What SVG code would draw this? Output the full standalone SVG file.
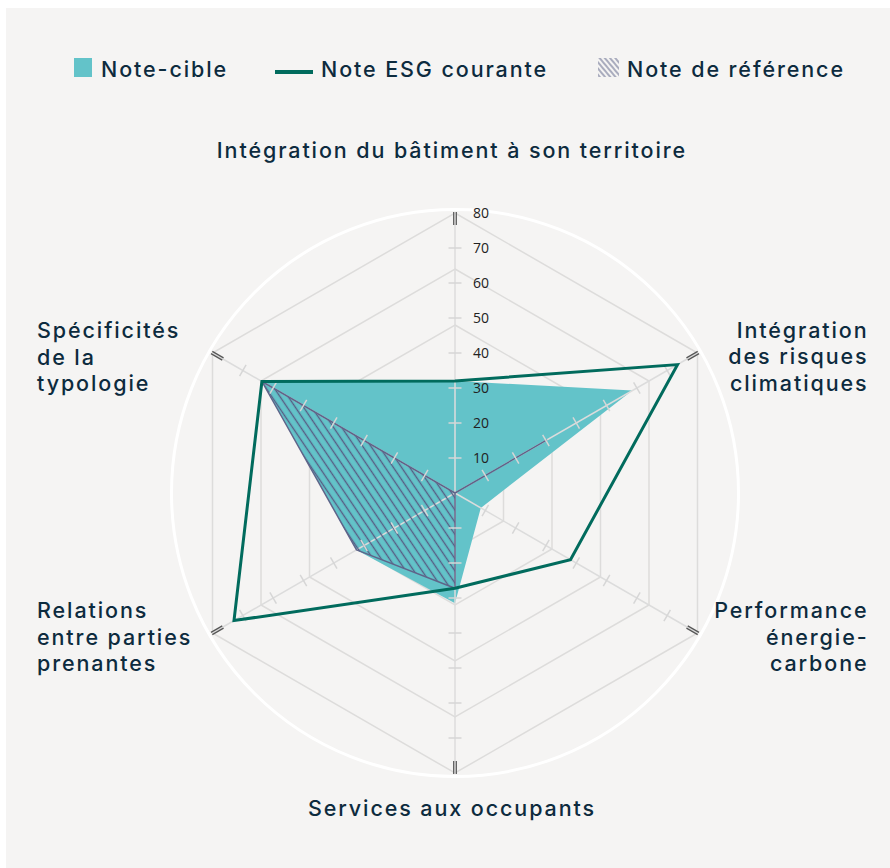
<svg xmlns="http://www.w3.org/2000/svg" xmlns:xlink="http://www.w3.org/1999/xlink" width="890" height="868" viewBox="0 0 890 868">
<style>
.lbl{font-family:Inter,"Open Sans",sans-serif;font-size:21.5px;font-weight:500;fill:#0d2b3e;letter-spacing:1.9px}
.tl{font-family:"Open Sans","Noto Sans",sans-serif;font-size:14px;fill:#222}
.grid{fill:none;stroke:#dddcdb;stroke-width:1.5}
.axis{stroke:#dcdcdc;stroke-width:1.5}
.tick{stroke:#d6d6d6;stroke-width:1.5}
.mark{stroke:#555;stroke-width:1.2}
</style>
<defs>
<pattern id="hatch" patternUnits="userSpaceOnUse" width="6.8" height="20" patternTransform="rotate(-34 455 493)">
<line x1="3.4" y1="0" x2="3.4" y2="20" stroke="#575c84" stroke-width="1.4"/>
</pattern>
<pattern id="hatchLeg" patternUnits="userSpaceOnUse" width="4" height="10" patternTransform="rotate(-40)">
<line x1="2" y1="0" x2="2" y2="10" stroke="#5d6388" stroke-width="1"/>
</pattern>
<g id="ticks">
<line class="tick" x1="448.5" y1="458" x2="461.5" y2="458"/>
<line class="tick" x1="448.5" y1="423" x2="461.5" y2="423"/>
<line class="tick" x1="448.5" y1="388" x2="461.5" y2="388"/>
<line class="tick" x1="448.5" y1="353" x2="461.5" y2="353"/>
<line class="tick" x1="448.5" y1="318" x2="461.5" y2="318"/>
<line class="tick" x1="448.5" y1="283" x2="461.5" y2="283"/>
<line class="tick" x1="448.5" y1="248" x2="461.5" y2="248"/>
</g>
<g id="mark">
<line class="mark" x1="453.7" y1="212" x2="453.7" y2="225"/>
<line class="mark" x1="456.3" y1="212" x2="456.3" y2="225"/>
</g>
</defs>
<rect x="0" y="0" width="890" height="868" fill="#ffffff"/>
<rect x="6" y="8" width="884" height="860" fill="#f5f4f3"/>

<g id="chart">
<circle cx="455" cy="493" r="283.5" fill="none" stroke="#ffffff" stroke-width="3"/>
<g id="grid">
<polygon class="grid" points="455,437 503.5,465 503.5,521 455,549 406.5,521 406.5,465"/>
<polygon class="grid" points="455,381 551.99,437 551.99,549 455,605 358.01,549 358.01,437"/>
<polygon class="grid" points="455,325 600.49,409 600.49,577 455,661 309.51,577 309.51,409"/>
<polygon class="grid" points="455,269 648.99,381 648.99,605 455,717 261.01,605 261.01,381"/>
<polygon class="grid" points="455,213 697.49,353 697.49,633 455,773 212.51,633 212.51,353"/>
</g>
<polygon id="note-cible" points="455,381 632.3,390.6 480.8,507.9 455,603.3 356.5,549.9 261.9,381.5" fill="#63c3c9"/>
<g id="axes">
<line class="axis" x1="455" y1="493" x2="455" y2="213"/>
<line class="axis" x1="455" y1="493" x2="697.49" y2="353"/>
<line class="axis" x1="455" y1="493" x2="697.49" y2="633"/>
<line class="axis" x1="455" y1="493" x2="455" y2="773"/>
<line class="axis" x1="455" y1="493" x2="212.51" y2="633"/>
<line class="axis" x1="455" y1="493" x2="212.51" y2="353"/>
</g>
<polygon id="note-reference" points="455,493 546.5,440.2 455,493 455,588.2 356.5,549.9 261.9,381.5" fill="url(#hatch)" stroke="#5f6489" stroke-width="1.5" stroke-linejoin="round"/>
<g id="axis-ticks">
<use href="#ticks"/>
<use href="#ticks" transform="rotate(60 455 493)"/>
<use href="#ticks" transform="rotate(120 455 493)"/>
<use href="#ticks" transform="rotate(180 455 493)"/>
<use href="#ticks" transform="rotate(240 455 493)"/>
<use href="#ticks" transform="rotate(300 455 493)"/>
<use href="#mark"/>
<use href="#mark" transform="rotate(60 455 493)"/>
<use href="#mark" transform="rotate(120 455 493)"/>
<use href="#mark" transform="rotate(180 455 493)"/>
<use href="#mark" transform="rotate(240 455 493)"/>
<use href="#mark" transform="rotate(300 455 493)"/>
</g>
<polygon id="note-esg" points="455,381 677.5,364.6 570.5,559.7 455,588.2 234,620.6 261.9,381.5" fill="none" stroke="#016b5d" stroke-width="3" stroke-linejoin="miter"/>
<g id="scale-labels">
<text class="tl" x="473" y="463">10</text>
<text class="tl" x="473" y="428">20</text>
<text class="tl" x="473" y="393">30</text>
<text class="tl" x="473" y="358">40</text>
<text class="tl" x="473" y="323">50</text>
<text class="tl" x="473" y="288">60</text>
<text class="tl" x="473" y="253">70</text>
<text class="tl" x="473" y="218">80</text>
</g>
</g>

<g id="legend">
<g id="legend-cible">
<rect x="74" y="58" width="18" height="19" fill="#63c3c9"/>
<text class="lbl" x="101" y="77">Note-cible</text>
</g>
<g id="legend-esg">
<line x1="275" y1="72" x2="313" y2="72" stroke="#016b5d" stroke-width="4"/>
<text class="lbl" x="321" y="77">Note ESG courante</text>
</g>
<g id="legend-reference">
<rect x="598" y="58" width="21" height="19" fill="url(#hatchLeg)"/>
<text class="lbl" x="627" y="77">Note de référence</text>
</g>
</g>

<g id="label-top">
<text class="lbl" x="452" y="158" text-anchor="middle">Intégration du bâtiment à son territoire</text>
</g>
<g id="label-upper-right">
<text class="lbl" text-anchor="end"><tspan x="868.5" y="337.5">Intégration</tspan><tspan x="868.5" y="364">des risques</tspan><tspan x="868.5" y="390.5">climatiques</tspan></text>
</g>
<g id="label-lower-right">
<text class="lbl" text-anchor="end"><tspan x="868.5" y="618">Performance</tspan><tspan x="868.5" y="644.5">énergie-</tspan><tspan x="868.5" y="671">carbone</tspan></text>
</g>
<g id="label-bottom">
<text class="lbl" x="452" y="816" text-anchor="middle">Services aux occupants</text>
</g>
<g id="label-lower-left">
<text class="lbl"><tspan x="37" y="618">Relations</tspan><tspan x="37" y="644.5">entre parties</tspan><tspan x="37" y="671">prenantes</tspan></text>
</g>
<g id="label-upper-left">
<text class="lbl"><tspan x="37" y="338">Spécificités</tspan><tspan x="37" y="364.5">de la</tspan><tspan x="37" y="391">typologie</tspan></text>
</g>
</svg>
